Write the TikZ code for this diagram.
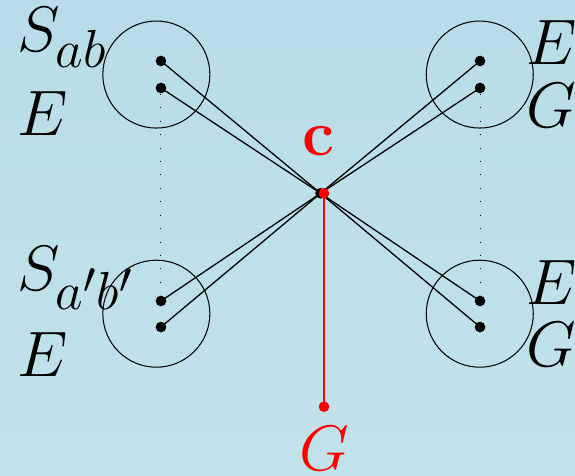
\documentclass[tikz,border=0pt]{standalone}
\usepackage{amsmath}
\usepackage{xcolor}
\usepackage{tikz}
\usetikzlibrary{positioning}

\definecolor{bgtop}{RGB}{184,221,232}
\definecolor{bgbot}{RGB}{194,226,234}

\begin{document}
\begin{tikzpicture}
  \tikzset{
    dot/.style={circle, fill=black, inner sep=0pt, minimum size=0.145cm},
    reddot/.style={dot, fill=red},
    ring/.style={circle, draw=black, inner sep=0pt, minimum size=1.456cm},
    lbl/.style={anchor=base west, inner sep=0pt, font=\Huge},
    dots/.style={dash pattern=on 0.4pt off 4.8pt},
    spoke/.style={line width=0.5pt},
    redline/.style={red, semithick}
  }
  \useasboundingbox[shade, top color=bgtop, bottom color=bgbot]
    (0,0) rectangle (7.823,-6.476);

  % circles round the pairs
  \node[ring] (rtl) at (2.127,-1.014) {};
  \node[ring] (rtr) at (6.527,-1.014) {};
  \node[ring] (rbl) at (2.127,-4.268) {};
  \node[ring] (rbr) at (6.527,-4.268) {};

  % the dots
  \node[dot] (tl1) at (2.190,-0.830) {};
  \node[dot] (tl2) at (2.190,-1.197) {};
  \node[dot] (tr1) at (6.531,-0.830) {};
  \node[dot] (tr2) at (6.531,-1.197) {};
  \node[dot] (bl1) at (2.190,-4.095) {};
  \node[dot] (bl2) at (2.190,-4.449) {};
  \node[dot] (br1) at (6.531,-4.095) {};
  \node[dot] (br2) at (6.531,-4.449) {};
  \node[dot] (x)   at (4.361,-2.630) {};

  \draw[dots] (tl2) -- (bl1);
  \draw[dots] (tr2) -- (br1);

  \foreach \p in {tl1,tl2,tr1,tr2,bl1,bl2,br1,br2}
    \draw[spoke] (\p.center) -- (x.center);

  % red part
  \node[reddot] (c) at (4.408,-2.630) {};
  \node[reddot] (g) at (4.408,-5.533) {};
  \draw[redline] (c.center) -- (g.center);
  \node[red, font=\Huge] (clbl) at (4.340,-1.918) {$\mathbf{c}$};
  \node[red, font=\Huge, anchor=base, inner sep=0pt] (glbl) at (4.408,-6.405) {$G$};

  % labels
  \node[lbl] (sab)  at (0.225,-0.707) {$S_{ab}$};
  \node[lbl] (e1)   at (0.225,-1.850) {$E$};
  \node[lbl] (sab2) at (0.225,-3.959) {$S_{a'b'}$};
  \node[lbl] (e2)   at (0.225,-5.116) {$E$};
  \node[lbl] (e3)   at (7.156,-0.884) {$E$};
  \node[lbl] (g3)   at (7.156,-1.741) {$G$};
  \node[lbl] (e4)   at (7.156,-4.136) {$E$};
  \node[lbl] (g4)   at (7.156,-4.993) {$G$};
\end{tikzpicture}
\end{document}
